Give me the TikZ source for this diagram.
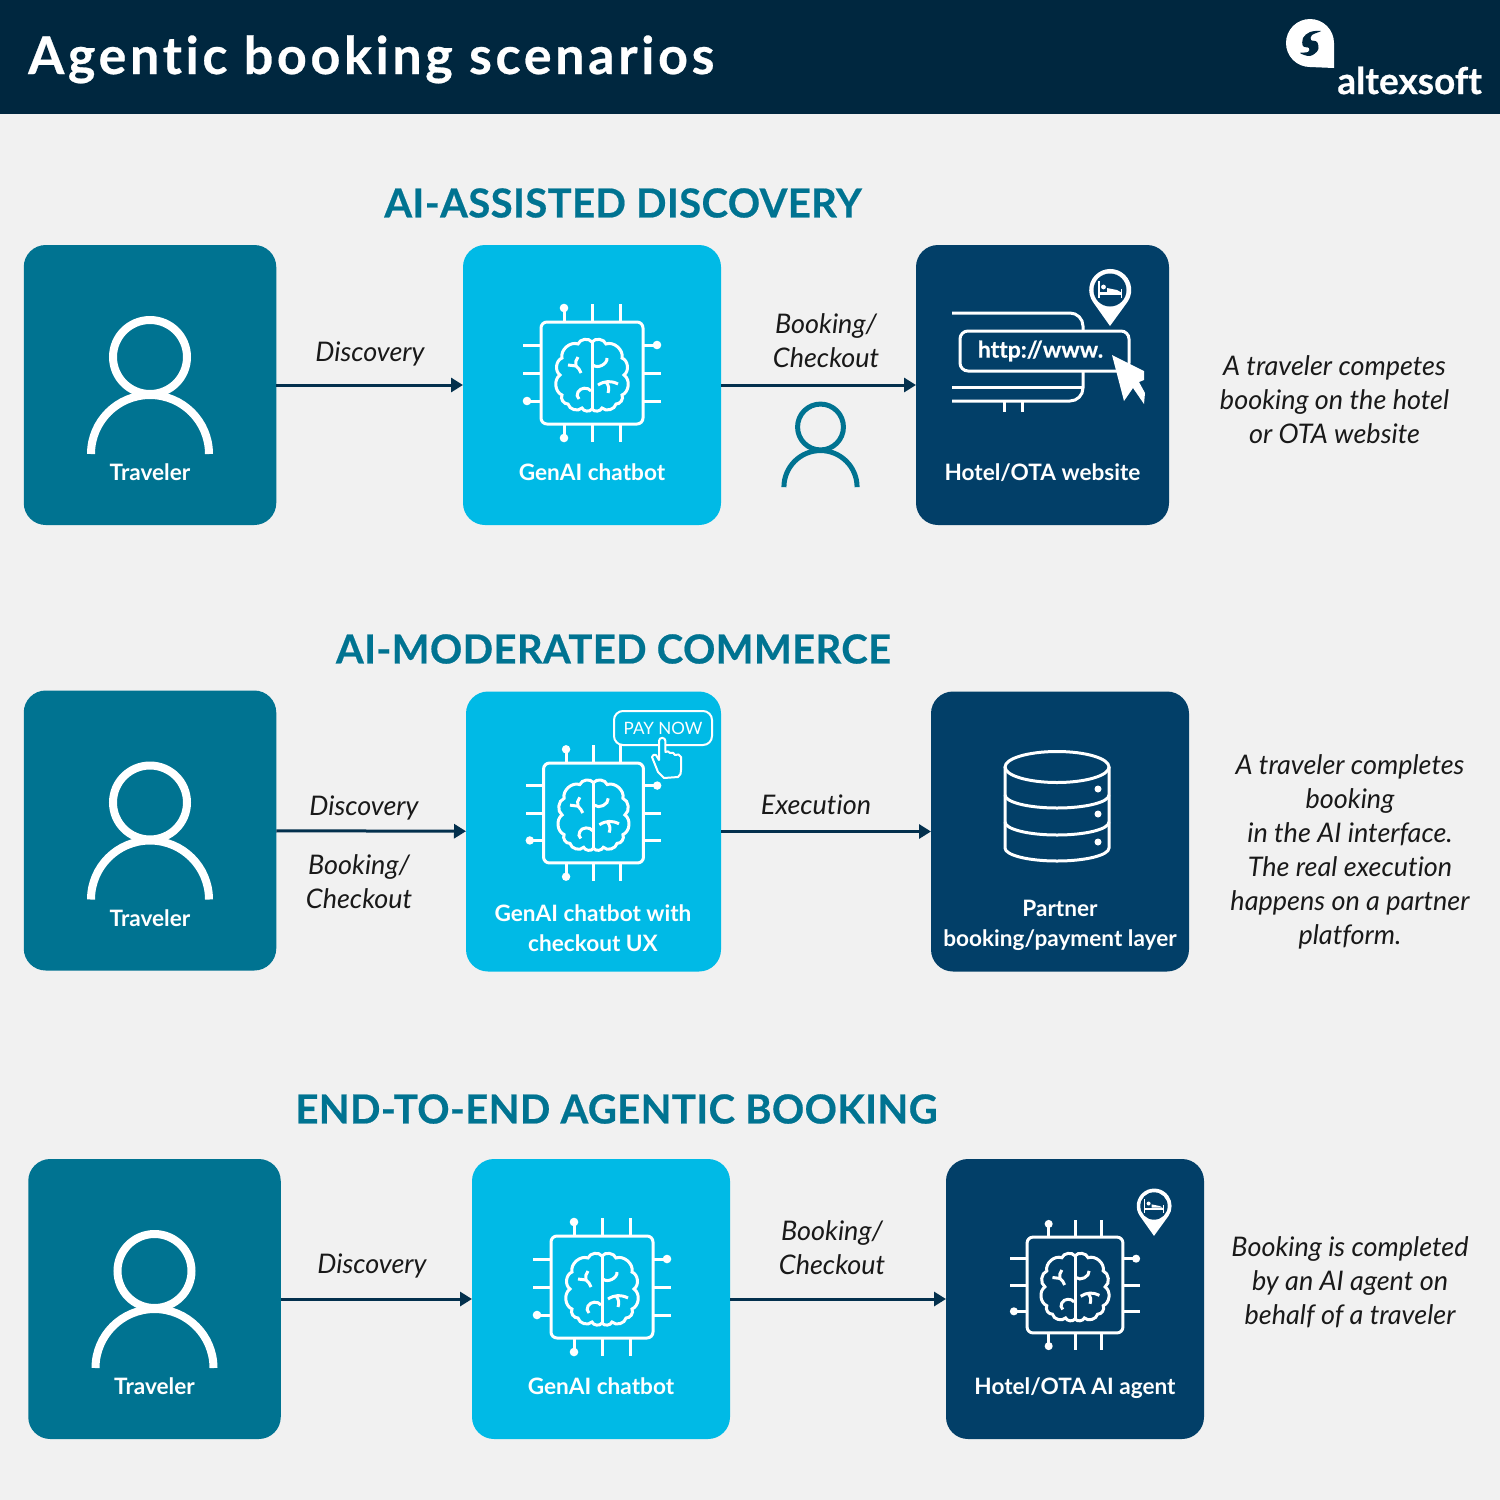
\documentclass[tikz,border=0pt]{standalone}
\usepackage{fontspec}
\setmainfont[Ligatures=NoCommon]{Lato}
\usetikzlibrary{arrows.meta}

\definecolor{headerblue}{HTML}{00273F}
\definecolor{pagegray}{HTML}{F1F1F1}
\definecolor{tealcard}{HTML}{007391}
\definecolor{cyancard}{HTML}{00BAE6}
\definecolor{navycard}{HTML}{023F68}
\definecolor{arrowblue}{HTML}{03304D}

\begin{document}
\begin{tikzpicture}[x=1pt, y=-1pt]
    \tikzset{card/.style={rounded corners=22pt, inner sep=0pt, outer sep=0pt, text=white}}
    \tikzset{travelercard/.style={card, fill=tealcard, minimum width=252.5pt, minimum height=280pt}}
    \tikzset{chatcard/.style={card, fill=cyancard, minimum width=258pt, minimum height=280pt}}
    \tikzset{sitecard/.style={card, fill=navycard, minimum width=258pt, minimum height=280pt}}
    \tikzset{heading/.style={text=tealcard, font=\fontsize{40}{40}\selectfont\bfseries\addfontfeature{LetterSpace=1,FakeBold=0.5}}}
    \tikzset{cardtext/.style={text=white, align=center, font=\fontsize{22.6}{30}\selectfont\bfseries}}
    \tikzset{flowtext/.style={text=black!90, align=center, font=\fontsize{27}{34}\selectfont\itshape}}
    \tikzset{flow/.style={draw=arrowblue, line width=3pt, -{Triangle[length=12pt,width=14pt]}}}
    \tikzset{lobe/.style={bend right=62}}

    \tikzset{person/.pic={
        \draw (0,0) circle (37);
        \draw (-59,97) arc (180:360:59);
    }}
    \tikzset{chip/.pic={
        \draw[rounded corners=6pt] (-51,-51) rectangle (51,51);
        \draw (-28,-51) -- (-28,-65);
        \draw (0,-51) -- (0,-69);
        \draw (28,-51) -- (28,-69);
        \draw (-28,51) -- (-28,65);
        \draw (0,51) -- (0,69);
        \draw (28,51) -- (28,69);
        \draw (-51,-28) -- (-69,-28);
        \draw (-51,0) -- (-69,0);
        \draw (-51,28) -- (-65,28);
        \draw (51,-28) -- (65,-28);
        \draw (51,0) -- (69,0);
        \draw (51,28) -- (69,28);
        \fill[white] (-28,-65) circle (4.3);
        \fill[white] (-28,65) circle (4.3);
        \fill[white] (-65,28) circle (4.3);
        \fill[white] (65,-28) circle (4.3);
        \draw (0,-31) -- (0,36);
        \draw (0,-31) to[lobe] (-14,-29) to[lobe] (-30,-15) to[lobe] (-32,2) to[lobe] (-30,22) to[lobe] (-24,31) to[lobe] (-10,35) to[lobe] (0,36);
        \draw (0,-31) to[bend left=62] (14,-29) to[bend left=62] (30,-15) to[bend left=62] (32,2) to[bend left=62] (30,22) to[bend left=62] (24,31) to[bend left=62] (10,35) to[bend left=62] (0,36);
        \draw (-24,-8) -- (-16,-7) to[bend left=15] (-11,0);
        \draw (-14,-16) to[bend right=25] (-16,-7);
        \draw (1,-8) to[bend right=70] (15,-15);
        \draw (6,12) to[bend left=30] (26,11);
        \draw (14,9) to[bend left=30] (16,20);
        \draw (-1,18) to[bend right=60] (-14,19) to[bend right=40] (-13,26);
    }}
    \tikzset{pin/.pic={
        \fill (0,36) -- (-17,12) arc (145:395:21) -- cycle;
        \fill[navycard] (0,0) circle (16.5);
        \fill (-12,-9) rectangle (-10.5,8);
        \fill (10.5,-1) rectangle (12,8);
        \fill (-10.5,2) rectangle (10.5,5);
        \fill (-6.5,-3) circle (2.4);
        \fill (-3,-2) -- (7,0) -- (10.5,2) -- (-3,2) -- cycle;
    }}

    % page
    \useasboundingbox (0,0) rectangle (1500,1500);
    \fill[pagegray] (0,0) rectangle (1500,1500);
    \fill[headerblue] (0,0) rectangle (1500,114);
    \node[text=white, anchor=base west, inner sep=0pt, font=\fontsize{52}{52}\selectfont\bfseries\addfontfeature{LetterSpace=7,FakeBold=0.5}] (title) at (28,74) {Agentic booking scenarios};

    % logo
    \fill[white] (1310,43) circle (24);
    \fill[white] (1310,67) -- (1334,68) -- (1334,43) -- cycle;
    \fill[headerblue] plot[smooth cycle, tension=.6] coordinates {(1321,31) (1310,32) (1303,38) (1303,46) (1309,48) (1308,52) (1300,53) (1310,56) (1318,50) (1317,42) (1311,40) (1312,35)};
    \node[text=white, anchor=base east, inner sep=0pt, font=\fontsize{37}{37}\selectfont\bfseries\addfontfeature{FakeBold=0.5}] (logotext) at (1482,94) {altexsoft};

    % first row
    \node[heading] (headA) at (623,203) {AI-ASSISTED DISCOVERY};
    \node[travelercard] (travelerA) at (150,385) {};
    \node[chatcard] (chatA) at (592,385) {};
    \node[sitecard, minimum width=253pt] (siteA) at (1042.5,385) {};
    \pic[draw=white, line width=8pt] (personA) at (150,357) {person};
    \pic[draw=white, line width=3pt] (chipA) at (592,373) {chip};
    \pic[draw=tealcard, line width=5pt, scale=.62] (personB) at (820.5,427) {person};
    \node[cardtext] (travelerAtext) at (150,472) {Traveler};
    \node[cardtext] (chatAtext) at (592,472) {GenAI chatbot};
    \node[cardtext] (siteAtext) at (1042.5,473) {Hotel/OTA website};
    \draw[flow] (travelerA) -- (chatA);
    \draw[flow] (chatA) -- (siteA);
    \node[flowtext] (discoA) at (370,354) {Discovery};
    \node[flowtext] (bookA) at (826,341) {Booking/\\Checkout};
    \node[flowtext] (noteA) at (1334.5,400) {A traveler competes\\booking on the hotel\\or OTA website};

    \draw[white, line width=3pt, rounded corners=13pt] (952,313) -- (1083,313) -- (1083,340);
    \draw[white, line width=3pt, rounded corners=13pt] (1083,365) -- (1083,401) -- (952,401);
    \draw[white, line width=3pt] (952,387) -- (1083,387);
    \draw[white, line width=3pt] (1004,401) -- (1004,412);
    \draw[white, line width=3pt] (1022,401) -- (1022,412);
    \node[draw=white, fill=navycard, line width=3pt, rounded corners=8pt, minimum width=169pt, minimum height=40pt, inner sep=0pt, text=white, font=\fontsize{23}{23}\selectfont\bfseries\addfontfeature{FakeBold=0.5}] (urlbar) at (1044.5,351) {\hspace{-8pt}http://www.\hspace{18pt}};
    \fill[white] (1112,355) -- (1144,371) -- (1144,380) -- (1139,382) -- (1145,393) -- (1144,404) -- (1133,388) -- (1124,401) -- cycle;
    \pic[fill=white] (pinA) at (1110,290) {pin};

    % second row
    \node[travelercard] (travelerC) at (150,830.5) {};
    \node[heading] (headB) at (613.5,649) {AI-MODERATED COMMERCE};
    \node[chatcard, minimum width=255pt] (chatB) at (593.5,831.5) {};
    \node[sitecard] (siteB) at (1060,831.5) {};
    \pic[draw=white, line width=8pt] (personC) at (150,802.5) {person};
    \pic[draw=white, line width=3pt, scale=.98] (chipB) at (593.5,813) {chip};
    \node[draw=white, line width=2pt, rounded corners=9pt, minimum width=98pt, minimum height=34pt, inner sep=0pt, text=white, font=\fontsize{17}{17}\selectfont] (paynow) at (663,728) {PAY NOW};
    \draw[white, fill=cyancard, line width=2pt, line join=round] (659,760) -- (659,741) arc (180:360:3.2) -- (665.5,752) to[bend left=60] (670,753) to[bend left=60] (675,755) to[bend left=60] (681,757) -- (681,770) to[bend left=30] (678,777) -- (664,778) -- (658,772) -- (652,757) to[bend left=70] (656,755) -- cycle;
    \node[cardtext] (travelerCtext) at (150,918) {Traveler};
    \node[cardtext] (chatBtext) at (593,928) {GenAI chatbot with\\checkout UX};
    \node[cardtext] (siteBtext) at (1060,925.5) {Partner\\booking/payment layer};
    \draw[flow] (travelerC) -- (chatB);
    \draw[flow] (chatB) -- (siteB);
    \node[flowtext] (discoB) at (364,808) {Discovery};
    \node[flowtext] (bookB) at (359,882) {Booking/\\Checkout};
    \node[flowtext] (execB) at (816,805) {Execution};
    \node[flowtext] (noteB) at (1350,852) {A traveler completes\\booking\\in the AI interface.\\The real execution\\happens on a partner\\platform.};

    \draw[white, line width=3pt] (1005,767) -- (1005,848) arc (180:0:52 and 13) -- (1109,767);
    \draw[white, line width=3pt] (1057,767) ellipse (52 and 15.5);
    \draw[white, line width=3pt] (1005,795) arc (180:0:52 and 13);
    \draw[white, line width=3pt] (1005,822) arc (180:0:52 and 13);
    \fill[white] (1098,789) circle (3.5);
    \fill[white] (1098,814) circle (3.5);
    \fill[white] (1098,842) circle (3.5);

    % third row
    \node[heading] (headC) at (616.5,1109) {END-TO-END AGENTIC BOOKING};
    \node[travelercard] (travelerD) at (154.5,1299) {};
    \node[chatcard] (chatC) at (601,1299) {};
    \node[sitecard] (siteC) at (1075,1299) {};
    \pic[draw=white, line width=8pt] (personD) at (154.5,1271) {person};
    \pic[draw=white, line width=3pt] (chipC) at (602,1287) {chip};
    \pic[draw=white, line width=3pt, scale=.94] (chipD) at (1075,1285) {chip};
    \pic[fill=white, scale=.83] (pinC) at (1154,1206) {pin};
    \node[cardtext] (travelerDtext) at (154.5,1386) {Traveler};
    \node[cardtext] (chatCtext) at (601,1386) {GenAI chatbot};
    \node[cardtext] (siteCtext) at (1075,1388) {Hotel/OTA AI agent};
    \draw[flow] (travelerD) -- (chatC);
    \draw[flow] (chatC) -- (siteC);
    \node[flowtext] (discoC) at (372,1266) {Discovery};
    \node[flowtext] (bookC) at (832,1248) {Booking/\\Checkout};
    \node[flowtext] (noteC) at (1350,1282) {Booking is completed\\by an AI agent on\\behalf of a traveler};
\end{tikzpicture}
\end{document}
